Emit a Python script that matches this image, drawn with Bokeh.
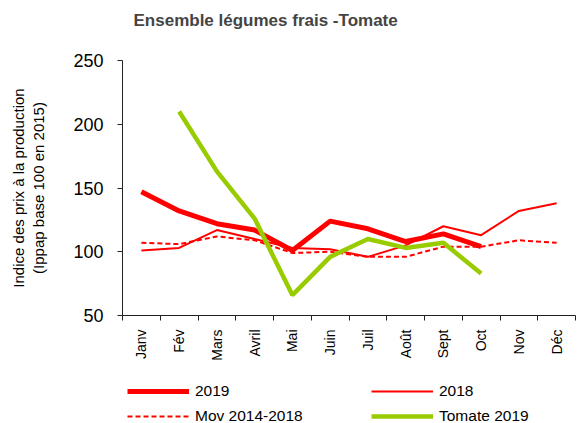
from bokeh.plotting import figure
from bokeh.models import FixedTicker, Legend, LegendItem, Title
from bokeh.layouts import column
from bokeh.embed import file_html
from bokeh.resources import INLINE
import math

months = ["Janv", "Fév", "Mars", "Avril", "Mai", "Juin", "Juil", "Août", "Sept", "Oct", "Nov", "Déc"]
s2019 = [147, 132, 122, 117, 101, 124, 118, 108, 114, 104]
s2018 = [101, 103, 117, 110, 103, 102, 96, 105, 120, 113, 132, 138]
mov = [107, 106, 112, 109, 99, 100, 96, 96, 104, 104, 109, 107]
tomate_months = months[1:10]
tomate = [210, 163, 126, 66, 96, 110, 103, 107, 83]

FONT = "Liberation Sans"
pos = {m: i + 0.5 for i, m in enumerate(months)}

STY = {
    "2019": dict(line_color="#FF0000", line_width=5),
    "2018": dict(line_color="#FF0000", line_width=2),
    "Mov 2014-2018": dict(line_color="#FF0000", line_width=2, line_dash="5 3"),
    "Tomate 2019": dict(line_color="#99CC00", line_width=4.5),
}
SERIES = {
    "2019": ([pos[m] for m in months[:len(s2019)]], s2019),
    "2018": ([pos[m] for m in months], s2018),
    "Mov 2014-2018": ([pos[m] for m in months], mov),
    "Tomate 2019": ([pos[m] for m in tomate_months], tomate),
}

p = figure(frame_width=453, frame_height=255, x_range=(0, 12), y_range=(50, 250),
           output_backend="svg", toolbar_location=None,
           min_border_left=122, min_border_right=2, min_border_top=60, min_border_bottom=62)
p.outline_line_color = None
p.xgrid.grid_line_color = None
p.ygrid.grid_line_color = None
p.background_fill_color = "white"
p.border_fill_color = "white"

# spacer between frame and title
p.add_layout(Title(text=" ", text_font_size="1px", standoff=26), "above")

p.title.text = "Ensemble légumes frais -Tomate"
p.title.text_font = FONT
p.title.text_font_size = "17px"
p.title.text_font_style = "bold"
p.title.align = "left"
p.title.offset = 11
p.title.vertical_align = "bottom"
p.title.standoff = 4

xa = p.xaxis[0]
xa.ticker = FixedTicker(ticks=[pos[m] for m in months], minor_ticks=list(range(13)))
xa.major_label_overrides = {pos[m]: m for m in months}
xa.major_tick_line_color = None
xa.minor_tick_in = 0
xa.minor_tick_out = 5
xa.minor_tick_line_color = "#222222"
xa.axis_line_color = "#222222"
xa.major_label_orientation = math.pi / 2
xa.major_label_text_font = FONT
xa.major_label_text_font_size = "14px"
xa.major_label_text_color = "black"
xa.major_label_standoff = 8

ya = p.yaxis[0]
ya.ticker = FixedTicker(ticks=[50, 100, 150, 200, 250])
ya.minor_tick_line_color = None
ya.major_tick_in = 0
ya.major_tick_out = 5
ya.major_tick_line_color = "#222222"
ya.axis_line_color = "#222222"
ya.major_label_text_font = FONT
ya.major_label_text_font_size = "18px"
ya.major_label_text_color = "black"
ya.major_label_standoff = 14
ya.axis_label = "Indice des prix à la production\n(Ippap base 100 en 2015)"
ya.axis_label_text_font = FONT
ya.axis_label_text_font_size = "15px"
ya.axis_label_text_font_style = "normal"
ya.axis_label_text_color = "black"
ya.axis_label_standoff = 23

for name in ["2018", "Mov 2014-2018", "2019", "Tomate 2019"]:
    xs, ys = SERIES[name]
    p.line(xs, ys, **STY[name])

# legend strip below the chart (its own lines lie outside its visible range)
p2 = figure(width=577, height=46, x_range=(0, 1), y_range=(0, 1),
            output_backend="svg", toolbar_location=None,
            min_border_left=0, min_border_right=0, min_border_top=0, min_border_bottom=0)
p2.axis.visible = False
p2.grid.visible = False
p2.outline_line_color = None
p2.border_fill_color = "white"
p2.background_fill_color = "white"

order = ["2019", "Mov 2014-2018", "2018", "Tomate 2019"]
items = []
for name in order:
    xs, ys = SERIES[name]
    r = p2.line(xs, ys, **STY[name])
    items.append(LegendItem(label=name, renderers=[r]))

lg = Legend(items=items, ncols=2, orientation="vertical")
lg.location = (5, -2)
lg.glyph_width = 62
lg.glyph_height = 16
lg.label_standoff = 6
lg.label_width = 169
lg.label_height = 16
lg.spacing = 7
lg.padding = 0
lg.margin = 0
lg.border_line_color = None
lg.background_fill_alpha = 0
lg.label_text_font = FONT
lg.label_text_font_size = "15.5px"
lg.label_text_color = "black"
p2.add_layout(lg, "center")

layout = column(p, p2, spacing=0)
open("out.html", "w").write(file_html(layout, INLINE))
